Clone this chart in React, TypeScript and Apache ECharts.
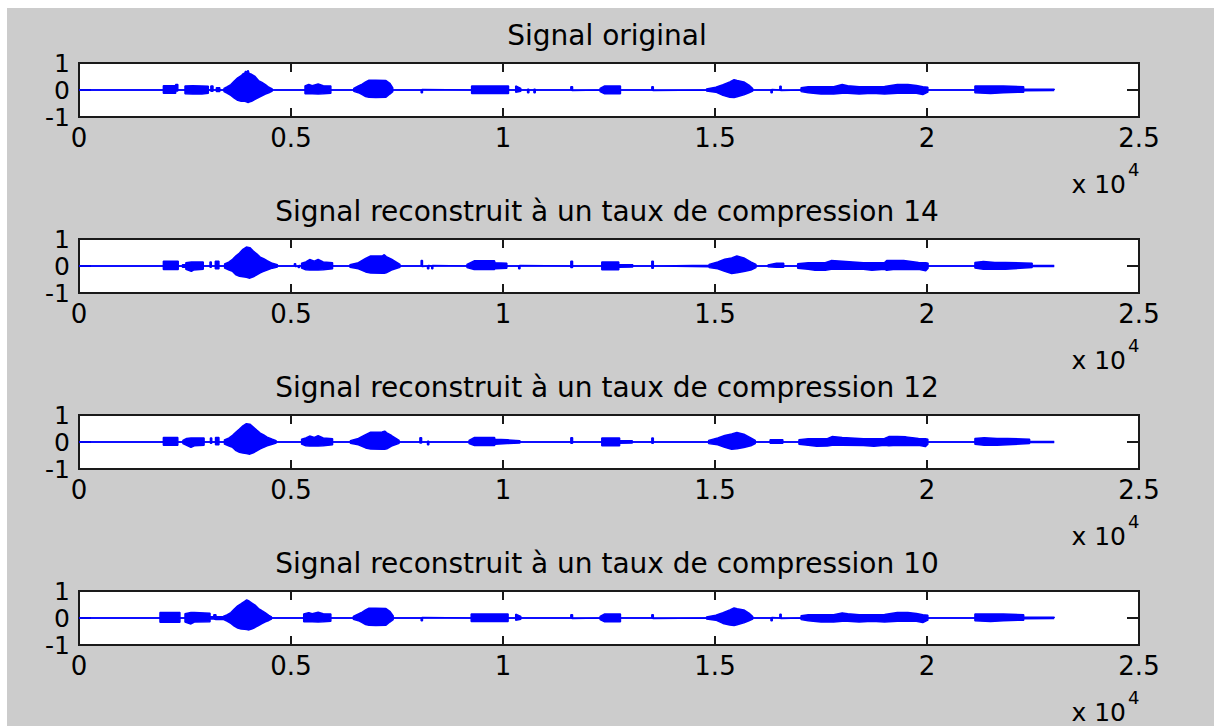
import React, { useEffect, useRef } from "react";
import * as echarts from "echarts";

// ---------- data ----------
const X_MIN = 0;
const X_MAX = 25000;
const X_STEP = 5000;
const Y_MIN = -1;
const Y_MAX = 1;
const Y_STEP = 1;

const TITLES = [
  "Signal original",
  "Signal reconstruit à un taux de compression 14",
  "Signal reconstruit à un taux de compression 12",
  "Signal reconstruit à un taux de compression 10",
];

// envelope points: [sample index, upper amplitude, lower amplitude (magnitude)]
const ORIGINAL: number[][] = [
  [0, 0, 0],
  [1990, 0, 0], [1990, 0.16, 0.12], [2280, 0.16, 0.12], [2280, 0.2, 0.04], [2330, 0.2, 0.04], [2330, 0, 0],
  [2500, 0, 0], [2500, 0.15, 0.14], [2680, 0.16, 0.15], [2900, 0.15, 0.15], [3050, 0.14, 0.12], [3050, 0, 0],
  [3110, 0, 0], [3110, 0.15, 0.05], [3160, 0.15, 0.05], [3160, 0, 0],
  [3240, 0, 0], [3240, 0.08, 0.06], [3320, 0.08, 0.06], [3320, 0, 0],
  [3419, 0, 0], [3419, 0.06, 0.06], [3500, 0.12, 0.12], [3582, 0.2, 0.2], [3663, 0.33, 0.3], [3744, 0.45, 0.38],
  [3826, 0.53, 0.42], [3870, 0.6, 0.42], [3907, 0.62, 0.42], [3930, 0.7, 0.43], [3948, 0.66, 0.44], [3989, 0.72, 0.46],
  [4010, 0.62, 0.45], [4029, 0.6, 0.44], [4070, 0.58, 0.42], [4151, 0.5, 0.35], [4233, 0.35, 0.28], [4314, 0.28, 0.22],
  [4396, 0.2, 0.15], [4477, 0.1, 0.1], [4558, 0.04, 0.04], [4558, 0, 0],
  [5330, 0, 0], [5330, 0.15, 0.14], [5420, 0.21, 0.14], [5500, 0.16, 0.14], [5640, 0.22, 0.15], [5760, 0.16, 0.14], [5940, 0.15, 0.12], [5940, 0, 0],
  [6480, 0, 0], [6480, 0.06, 0.05], [6590, 0.15, 0.1], [6680, 0.22, 0.17], [6760, 0.3, 0.24], [6840, 0.36, 0.27],
  [7000, 0.36, 0.28], [7240, 0.35, 0.27], [7330, 0.25, 0.15], [7400, 0.08, 0.06], [7400, 0, 0],
  [8070, 0, 0], [8070, 0.02, 0.1], [8100, 0.02, 0.1], [8100, 0, 0],
  [9260, 0, 0], [9260, 0.15, 0.13], [10130, 0.15, 0.13], [10130, 0, 0],
  [10300, 0, 0], [10300, 0.15, 0.08], [10420, 0.06, 0.05], [10420, 0, 0],
  [10580, 0, 0], [10580, 0.03, 0.1], [10610, 0.03, 0.1], [10610, 0, 0],
  [10730, 0, 0], [10730, 0.03, 0.1], [10760, 0.03, 0.1], [10760, 0, 0],
  [11600, 0, 0], [11600, 0.12, 0.02], [11640, 0.12, 0.02], [11640, 0, 0],
  [12290, 0, 0], [12290, 0.06, 0.06], [12400, 0.15, 0.14], [12770, 0.15, 0.14], [12770, 0, 0],
  [13510, 0, 0], [13510, 0.12, 0.02], [13545, 0.12, 0.02], [13545, 0, 0],
  [14800, 0, 0], [14800, 0.04, 0.04], [15020, 0.1, 0.08], [15190, 0.2, 0.2], [15350, 0.3, 0.27], [15450, 0.38, 0.28],
  [15520, 0.35, 0.25], [15680, 0.3, 0.18], [15800, 0.18, 0.1], [15890, 0.05, 0.04], [15890, 0, 0],
  [16320, 0, 0], [16320, 0.02, 0.1], [16350, 0.02, 0.1], [16350, 0, 0],
  [16530, 0, 0], [16530, 0.14, 0.02], [16560, 0.14, 0.02], [16560, 0, 0],
  [17030, 0, 0], [17030, 0.08, 0.06], [17200, 0.12, 0.1], [17500, 0.12, 0.15], [17800, 0.12, 0.15], [18000, 0.2, 0.12],
  [18130, 0.16, 0.12], [18400, 0.12, 0.15], [18700, 0.12, 0.12], [19000, 0.13, 0.15], [19300, 0.2, 0.12],
  [19550, 0.2, 0.12], [19750, 0.17, 0.12], [19900, 0.12, 0.17], [20020, 0.1, 0.08], [20020, 0, 0],
  [21130, 0, 0], [21130, 0.15, 0.1], [21500, 0.15, 0.13], [21800, 0.15, 0.1], [22280, 0.12, 0.08],
  [22280, 0.04, 0.03], [23000, 0.03, 0.02], [23000, 0, 0],
];

const RATE_14: number[][] = [
  [0, 0, 0],
  [1990, 0, 0], [1990, 0.18, 0.13], [2340, 0.18, 0.13], [2340, 0, 0],
  [2440, 0, 0], [2440, 0.05, 0.05], [2520, 0.05, 0.05], [2520, 0.12, 0.12], [2650, 0.15, 0.2], [2700, 0.15, 0.15], [2930, 0.15, 0.12], [2930, 0, 0],
  [3090, 0, 0], [3090, 0.15, 0.05], [3120, 0.15, 0.05], [3120, 0, 0],
  [3215, 0, 0], [3215, 0.18, 0.1], [3300, 0.18, 0.1], [3300, 0, 0],
  [3435, 0, 0], [3435, 0.08, 0.08], [3541, 0.15, 0.15], [3622, 0.25, 0.2], [3704, 0.38, 0.33], [3785, 0.48, 0.38],
  [3867, 0.62, 0.4], [3948, 0.7, 0.42], [4029, 0.68, 0.45], [4111, 0.55, 0.4], [4192, 0.45, 0.33], [4274, 0.33, 0.25],
  [4355, 0.27, 0.2], [4436, 0.2, 0.15], [4558, 0.1, 0.08], [4680, 0.05, 0.04], [4680, 0, 0],
  [5080, 0, 0], [5080, 0.08, 0.02], [5110, 0.08, 0.02], [5110, 0, 0],
  [5170, 0, 0], [5170, 0.02, 0.06], [5200, 0.02, 0.06], [5200, 0, 0],
  [5250, 0, 0], [5250, 0.1, 0.08], [5350, 0.15, 0.14], [5440, 0.24, 0.15], [5550, 0.18, 0.15], [5640, 0.24, 0.15], [5760, 0.15, 0.14], [5980, 0.12, 0.1], [5980, 0, 0],
  [6390, 0, 0], [6390, 0.05, 0.05], [6590, 0.12, 0.1], [6760, 0.28, 0.22], [6880, 0.37, 0.26], [7150, 0.37, 0.27],
  [7200, 0.42, 0.27], [7245, 0.35, 0.25], [7370, 0.25, 0.15], [7570, 0.06, 0.05], [7570, 0, 0],
  [8070, 0, 0], [8070, 0.2, 0.02], [8100, 0.2, 0.02], [8100, 0, 0],
  [8220, 0, 0], [8220, 0.02, 0.1], [8250, 0.02, 0.1], [8250, 0, 0], [8320, 0, 0], [8320, 0.02, 0.1], [8345, 0.02, 0.1], [8345, 0, 0],
  [9150, 0, 0], [9150, 0.06, 0.06], [9320, 0.19, 0.13], [9800, 0.19, 0.13], [9810, 0.12, 0.1], [10090, 0.1, 0.08], [10090, 0, 0],
  [10370, 0, 0], [10370, 0.02, 0.1], [10400, 0.02, 0.1], [10400, 0, 0],
  [11600, 0, 0], [11600, 0.18, 0.06], [11640, 0.18, 0.06], [11640, 0, 0],
  [12330, 0, 0], [12330, 0.15, 0.14], [12730, 0.15, 0.14], [12730, 0.05, 0.05], [13060, 0.05, 0.04], [13060, 0, 0],
  [13510, 0, 0], [13510, 0.18, 0.08], [13545, 0.18, 0.08], [13545, 0, 0],
  [13670, 0, 0], [13670, 0.025, 0.025], [14860, 0.025, 0.025],
  [14860, 0.06, 0.06], [15066, 0.15, 0.1], [15230, 0.25, 0.2], [15393, 0.3, 0.28], [15516, 0.37, 0.25], [15680, 0.3, 0.2],
  [15844, 0.15, 0.15], [15967, 0.06, 0.06], [15967, 0, 0],
  [16250, 0, 0], [16250, 0.04, 0.03], [16450, 0.1, 0.05], [16620, 0.1, 0.05], [16620, 0, 0],
  [16950, 0, 0], [16950, 0.08, 0.08], [17200, 0.12, 0.12], [17360, 0.12, 0.16], [17600, 0.12, 0.16], [17740, 0.2, 0.12],
  [18000, 0.18, 0.12], [18500, 0.12, 0.12], [18700, 0.12, 0.16], [19000, 0.13, 0.12], [19050, 0.2, 0.16], [19250, 0.2, 0.12],
  [19450, 0.2, 0.13], [19800, 0.13, 0.12], [19970, 0.12, 0.18], [20025, 0.1, 0.08], [20025, 0, 0],
  [21130, 0, 0], [21130, 0.13, 0.07], [21330, 0.17, 0.12], [21600, 0.13, 0.12], [21850, 0.13, 0.12], [22480, 0.1, 0.06],
  [22480, 0.02, 0.02], [23000, 0.02, 0.02], [23000, 0, 0],
];

const RATE_12: number[][] = [
  [0, 0, 0],
  [1990, 0, 0], [1990, 0.17, 0.12], [2330, 0.17, 0.12], [2330, 0, 0],
  [2450, 0, 0], [2450, 0.06, 0.06], [2540, 0.13, 0.12], [2640, 0.15, 0.2], [2720, 0.15, 0.14], [2950, 0.15, 0.12], [2950, 0, 0],
  [3100, 0, 0], [3100, 0.15, 0.05], [3130, 0.15, 0.05], [3130, 0, 0],
  [3220, 0, 0], [3220, 0.17, 0.1], [3300, 0.17, 0.1], [3300, 0, 0],
  [3430, 0, 0], [3430, 0.08, 0.08], [3541, 0.15, 0.15], [3622, 0.25, 0.2], [3704, 0.37, 0.32], [3785, 0.48, 0.38],
  [3867, 0.6, 0.41], [3948, 0.68, 0.43], [4029, 0.66, 0.45], [4111, 0.55, 0.4], [4192, 0.44, 0.33], [4274, 0.33, 0.25],
  [4355, 0.26, 0.2], [4436, 0.18, 0.14], [4558, 0.1, 0.08], [4650, 0.05, 0.04], [4650, 0, 0],
  [5250, 0, 0], [5250, 0.1, 0.08], [5350, 0.15, 0.14], [5440, 0.22, 0.15], [5550, 0.17, 0.15], [5640, 0.23, 0.15], [5760, 0.15, 0.14], [5980, 0.12, 0.1], [5980, 0, 0],
  [6400, 0, 0], [6400, 0.05, 0.05], [6590, 0.13, 0.1], [6760, 0.27, 0.22], [6880, 0.36, 0.26], [7150, 0.37, 0.27],
  [7210, 0.4, 0.27], [7260, 0.34, 0.25], [7370, 0.24, 0.15], [7550, 0.06, 0.05], [7550, 0, 0],
  [8040, 0, 0], [8040, 0.16, 0.04], [8080, 0.16, 0.04], [8080, 0, 0],
  [8220, 0, 0], [8220, 0.03, 0.1], [8250, 0.03, 0.1], [8250, 0, 0],
  [9200, 0, 0], [9200, 0.06, 0.06], [9330, 0.17, 0.13], [9800, 0.17, 0.13], [9810, 0.1, 0.08], [10100, 0.08, 0.06], [10400, 0.05, 0.04], [10400, 0, 0],
  [11600, 0, 0], [11600, 0.16, 0.05], [11640, 0.16, 0.05], [11640, 0, 0],
  [12330, 0, 0], [12330, 0.15, 0.14], [12750, 0.15, 0.14], [12750, 0.05, 0.05], [13050, 0.05, 0.04], [13050, 0, 0],
  [13510, 0, 0], [13510, 0.15, 0.05], [13545, 0.15, 0.05], [13545, 0, 0],
  [14850, 0, 0], [14850, 0.06, 0.06], [15066, 0.15, 0.1], [15230, 0.24, 0.2], [15393, 0.3, 0.27], [15516, 0.35, 0.25],
  [15680, 0.29, 0.2], [15844, 0.15, 0.14], [15950, 0.06, 0.06], [15950, 0, 0],
  [16300, 0, 0], [16300, 0.08, 0.05], [16600, 0.08, 0.05], [16600, 0, 0],
  [16980, 0, 0], [16980, 0.08, 0.08], [17200, 0.12, 0.12], [17400, 0.12, 0.16], [17650, 0.12, 0.15], [17760, 0.2, 0.12],
  [18000, 0.17, 0.12], [18500, 0.12, 0.13], [18750, 0.12, 0.16], [19000, 0.13, 0.12], [19100, 0.2, 0.14], [19300, 0.2, 0.12],
  [19500, 0.19, 0.13], [19800, 0.13, 0.12], [19960, 0.12, 0.17], [20020, 0.1, 0.08], [20020, 0, 0],
  [21130, 0, 0], [21130, 0.13, 0.08], [21350, 0.16, 0.12], [21650, 0.13, 0.12], [21900, 0.13, 0.1], [22420, 0.1, 0.06],
  [22420, 0.02, 0.02], [23000, 0.02, 0.02], [23000, 0, 0],
];

const RATE_10: number[][] = [
  [0, 0, 0],
  [1910, 0, 0], [1910, 0.2, 0.16], [2380, 0.2, 0.16], [2380, 0, 0],
  [2500, 0, 0], [2500, 0.16, 0.15], [2640, 0.2, 0.22], [2720, 0.2, 0.15], [3090, 0.18, 0.14], [3090, 0.05, 0.04],
  [3180, 0.05, 0.04], [3180, 0.12, 0.06], [3230, 0.12, 0.06], [3230, 0.05, 0.04], [3400, 0.06, 0.05],
  [3500, 0.12, 0.12], [3582, 0.2, 0.2], [3663, 0.33, 0.3], [3744, 0.45, 0.37],
  [3826, 0.53, 0.41], [3907, 0.62, 0.42], [3955, 0.67, 0.43], [4010, 0.63, 0.44], [4070, 0.56, 0.41], [4151, 0.48, 0.35],
  [4233, 0.35, 0.28], [4314, 0.27, 0.21], [4396, 0.19, 0.14], [4477, 0.1, 0.09], [4540, 0.04, 0.04], [4540, 0, 0],
  [5300, 0, 0], [5300, 0.15, 0.14], [5420, 0.2, 0.14], [5500, 0.16, 0.14], [5640, 0.21, 0.15], [5760, 0.16, 0.14], [5940, 0.15, 0.12], [5940, 0, 0],
  [6470, 0, 0], [6470, 0.06, 0.05], [6590, 0.15, 0.1], [6680, 0.22, 0.17], [6760, 0.3, 0.24], [6840, 0.36, 0.27],
  [7000, 0.36, 0.28], [7240, 0.35, 0.27], [7330, 0.25, 0.15], [7410, 0.08, 0.06], [7410, 0, 0],
  [8070, 0, 0], [8070, 0.02, 0.1], [8100, 0.02, 0.1], [8100, 0, 0],
  [9250, 0, 0], [9250, 0.15, 0.13], [10120, 0.15, 0.13], [10120, 0, 0],
  [10300, 0, 0], [10300, 0.14, 0.08], [10420, 0.06, 0.05], [10420, 0, 0],
  [11600, 0, 0], [11600, 0.12, 0.02], [11640, 0.12, 0.02], [11640, 0, 0],
  [12290, 0, 0], [12290, 0.06, 0.06], [12400, 0.15, 0.14], [12770, 0.15, 0.14], [12770, 0, 0],
  [13510, 0, 0], [13510, 0.12, 0.02], [13545, 0.12, 0.02], [13545, 0, 0],
  [14800, 0, 0], [14800, 0.04, 0.04], [15020, 0.1, 0.08], [15190, 0.2, 0.2], [15350, 0.3, 0.26], [15450, 0.37, 0.28],
  [15520, 0.34, 0.25], [15680, 0.3, 0.18], [15800, 0.18, 0.1], [15890, 0.05, 0.04], [15890, 0, 0],
  [16320, 0, 0], [16320, 0.02, 0.1], [16350, 0.02, 0.1], [16350, 0, 0],
  [16530, 0, 0], [16530, 0.14, 0.02], [16560, 0.14, 0.02], [16560, 0, 0],
  [17030, 0, 0], [17030, 0.08, 0.06], [17200, 0.12, 0.1], [17500, 0.12, 0.15], [17800, 0.12, 0.15], [18000, 0.19, 0.12],
  [18130, 0.16, 0.12], [18400, 0.12, 0.15], [18700, 0.12, 0.12], [19000, 0.13, 0.15], [19300, 0.2, 0.12],
  [19550, 0.2, 0.12], [19750, 0.17, 0.12], [19900, 0.12, 0.17], [20020, 0.1, 0.08], [20020, 0, 0],
  [21130, 0, 0], [21130, 0.15, 0.1], [21500, 0.15, 0.13], [21800, 0.15, 0.1], [22280, 0.12, 0.08],
  [22280, 0.04, 0.03], [23000, 0.03, 0.02], [23000, 0, 0],
];

const SIGNALS = [ORIGINAL, RATE_14, RATE_12, RATE_10];

// ---------- layout / style ----------
const W = 1214;
const H = 726;
const GRID_LEFT = 79;
const GRID_RIGHT = 75;
const GRID_TOPS = [63, 239, 415, 591];
const GRID_H = 54;
const FONT = "DejaVu Sans";
const BLUE = "#0000ff";
const AXIS_COLOR = "#1a1a1a";

export default function App() {
  const ref = useRef<HTMLDivElement>(null);

  useEffect(() => {
    document.body.style.margin = "0";
    if (!ref.current) return;
    const chart = echarts.init(ref.current, undefined, { renderer: "svg" });

    const grids: any[] = [];
    const xAxes: any[] = [];
    const yAxes: any[] = [];
    const series: any[] = [];
    const titles: any[] = [];
    const graphics: any[] = [
      { type: "rect", shape: { x: 0, y: 0, width: W, height: 8 }, style: { fill: "#ffffff" }, silent: true },
      { type: "rect", shape: { x: 0, y: 0, width: 7, height: H }, style: { fill: "#ffffff" }, silent: true },
    ];

    const tickStyle = { color: AXIS_COLOR, width: 2 };

    SIGNALS.forEach((sig, i) => {
      const top = GRID_TOPS[i];
      grids.push({
        left: GRID_LEFT,
        right: GRID_RIGHT,
        top,
        height: GRID_H,
        show: true,
        backgroundColor: "#ffffff",
        borderColor: AXIS_COLOR,
        borderWidth: 2,
        containLabel: false,
      });
      const xBase = {
        type: "value",
        gridIndex: i,
        min: X_MIN,
        max: X_MAX,
        interval: X_STEP,
        splitLine: { show: false },
        axisLine: { show: false, onZero: false },
      };
      xAxes.push({
        ...xBase,
        position: "bottom",
        axisTick: { show: true, inside: true, length: 9, lineStyle: tickStyle },
        axisLabel: {
          show: true,
          margin: 8,
          fontSize: 26,
          fontFamily: FONT,
          color: "#000",
          formatter: (v: number) => String(v / 10000),
        },
      });
      xAxes.push({
        ...xBase,
        position: "top",
        axisTick: { show: true, inside: true, length: 9, lineStyle: tickStyle },
        axisLabel: { show: false },
      });
      const yBase = {
        type: "value",
        gridIndex: i,
        min: Y_MIN,
        max: Y_MAX,
        interval: Y_STEP,
        splitLine: { show: false },
        axisLine: { show: false, onZero: false },
      };
      yAxes.push({
        ...yBase,
        position: "left",
        axisTick: { show: true, inside: true, length: 12, lineStyle: tickStyle },
        axisLabel: {
          show: true,
          margin: 9,
          fontSize: 25,
          lineHeight: 24,
          fontFamily: FONT,
          color: "#000",
          formatter: (v: number) => String(v),
        },
      });
      yAxes.push({
        ...yBase,
        position: "right",
        axisTick: { show: true, inside: true, length: 12, lineStyle: tickStyle },
        axisLabel: { show: false },
      });

      const upper = sig.map((p) => [p[0], p[1]]);
      const lower = sig.map((p) => [p[0], -p[2]]);
      [upper, lower].forEach((d) => {
        series.push({
          type: "line",
          xAxisIndex: i * 2,
          yAxisIndex: i * 2,
          data: d,
          symbol: "none",
          showSymbol: false,
          smooth: false,
          clip: true,
          lineStyle: { color: BLUE, width: 1.5 },
          areaStyle: { color: BLUE, opacity: 1, origin: 0 },
          silent: true,
          z: 3,
        });
      });

      titles.push({
        text: TITLES[i],
        left: "center",
        top: top - 42,
        padding: 0,
        textStyle: { fontSize: 28, fontWeight: "normal", fontFamily: FONT, color: "#000", lineHeight: 28 },
      });

      const bottom = top + GRID_H;
      graphics.push({
        type: "text",
        x: 1126,
        y: bottom + 67,
        style: { text: "x 10", fill: "#000", font: `25px "${FONT}"`, textAlign: "right", textVerticalAlign: "middle" },
        silent: true,
      });
      graphics.push({
        type: "text",
        x: 1128,
        y: bottom + 52,
        style: { text: "4", fill: "#000", font: `18px "${FONT}"`, textAlign: "left", textVerticalAlign: "middle" },
        silent: true,
      });
    });

    chart.setOption({
      animation: false,
      backgroundColor: "#cccccc",
      title: titles,
      grid: grids,
      xAxis: xAxes,
      yAxis: yAxes,
      series,
      graphic: graphics,
    });

    return () => chart.dispose();
  }, []);

  return <div ref={ref} style={{ width: W, height: H }} />;
}
